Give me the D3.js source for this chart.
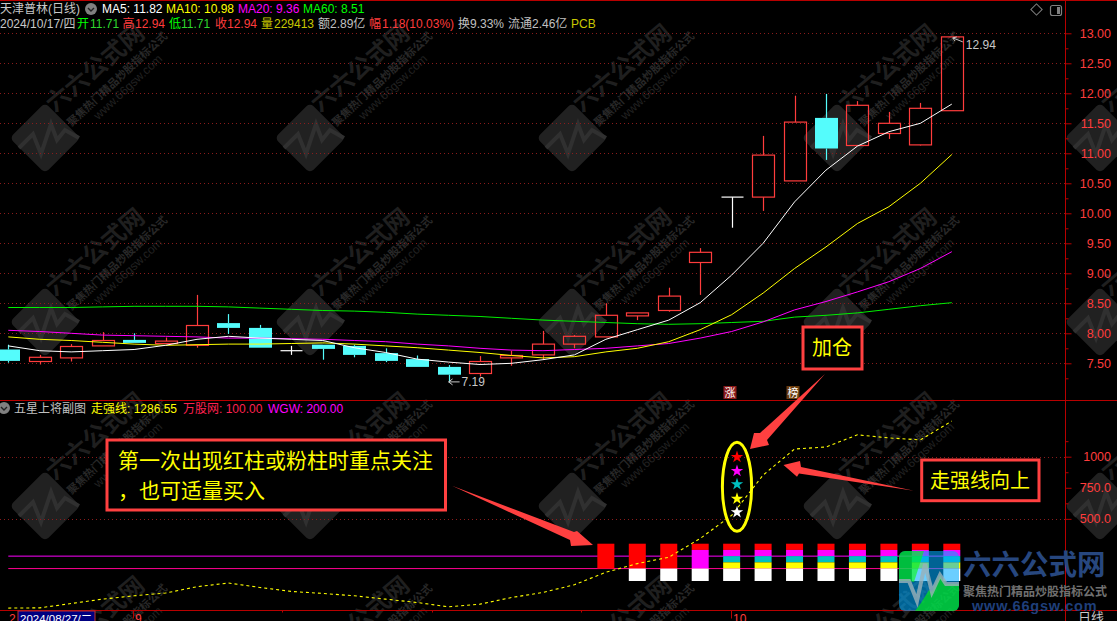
<!DOCTYPE html>
<html><head><meta charset="utf-8">
<script src="https://cdn.jsdelivr.net/npm/d3@7"></script>
<style>
html,body{margin:0;padding:0;background:#000;overflow:hidden}
svg{display:block}
text{font-family:"Liberation Sans","Noto Sans CJK SC",sans-serif}
</style></head><body>
<svg id="c" width="1117" height="621"></svg>
<script>
// ---- data ----
const opens  =[7.73,7.53,7.59,7.79,7.89,7.83,7.80,8.17,8.09,7.71,7.81,7.79,7.67,7.57,7.44,7.33,7.59,7.64,7.82,7.94,8.29,8.38,9.18,10.27,10.27,10.54,11.59,11.13,11.33,11.14,11.71];
const closes =[7.54,7.60,7.78,7.88,7.84,7.87,8.13,8.09,7.76,7.71,7.74,7.64,7.54,7.44,7.31,7.53,7.63,7.82,7.95,8.30,8.34,8.62,9.35,10.27,10.97,11.52,11.08,11.80,11.50,11.75,12.94];
const highs  =[7.81,7.64,7.82,8.02,8.00,7.93,8.64,8.32,8.14,7.79,7.81,7.81,7.75,7.63,7.47,7.62,7.71,8.04,7.97,8.50,8.34,8.76,9.42,10.27,11.29,11.96,11.99,11.87,11.69,11.84,12.94];
const lows   =[7.51,7.48,7.53,7.79,7.84,7.83,7.76,7.99,7.76,7.64,7.56,7.60,7.52,7.44,7.19,7.28,7.46,7.56,7.75,7.94,8.22,8.36,8.64,9.76,10.04,10.54,10.89,11.13,11.24,11.13,11.71];
const ma5    =[7.79,7.71,7.69,7.71,7.73,7.80,7.90,7.95,7.92,7.90,7.88,7.76,7.68,7.57,7.52,7.48,7.50,7.56,7.64,7.90,8.06,8.22,8.51,8.97,9.50,10.19,10.72,11.12,11.36,11.50,11.82];
const ma10   =[7.94,7.90,7.88,7.85,7.82,7.80,7.81,7.82,7.82,7.83,7.84,7.82,7.79,7.76,7.72,7.68,7.63,7.59,7.61,7.69,7.75,7.86,8.06,8.31,8.67,9.08,9.44,9.83,10.11,10.50,10.98];
const ma20   =[8.05,8.03,8.00,7.97,7.96,7.95,7.94,7.92,7.92,7.91,7.90,7.88,7.86,7.82,7.79,7.75,7.72,7.71,7.73,7.75,7.79,7.83,7.92,8.03,8.19,8.39,8.53,8.69,8.86,9.08,9.36];
const ma60   =[8.43,8.43,8.43,8.44,8.45,8.45,8.45,8.44,8.42,8.40,8.38,8.37,8.35,8.32,8.30,8.28,8.25,8.22,8.20,8.18,8.16,8.15,8.16,8.18,8.20,8.27,8.30,8.34,8.40,8.46,8.51];
const strongLine=[-218,-216,-181,-146,-119,-97,-46,-16,-52,-84,-100,-119,-146,-173,-208,-186,-133,-92,-30,70,140,191,342,528,852,1062,1078,1176,1151,1135,1286.55];
const lineWan=100, lineWgw=200;
const barIndex   =[19,20,21,22,23,24,25,26,27,28,29,30];
const redBase    =[100,100,100,250,250,250,250,250,250,250,250,250];
const magentaBase=[null,null,null,100,200,200,200,200,200,200,200,200];
const tealBase   =[null,null,null,null,150,150,150,150,150,150,150,150];
const yellowBase =[null,null,null,null,100,100,100,100,100,100,100,100];
const whiteBase  =[null,0,0,0,0,0,0,0,0,0,0,0];
const priceTicks=[7.5,8,8.5,9,9.5,10,10.5,11,11.5,12,12.5,13];
const priceMinor=[7.25,7.75,8.25,8.75,9.25,9.75,10.25,10.75,11.25,11.75,12.25,12.75];
const lowerTicks=[500,750,1000];
const lowerMinor=[625,875,1125];
const head1=[[102,"MA5: 11.82","#fff"],[166,"MA10: 10.98","#ff0"],[238,"MA20: 9.36","#f0f"],[303,"MA60: 8.51","#0f0"]];
const head2=[[0,"2024/10/17/四","#c8c8c8"],[77,"开","#0f0"],[90,"11.71","#2fd62f"],[122.5,"高","#ff3c3c"],[135,"12.94","#ff3c3c"],[169,"低","#0f0"],[181,"11.71","#2fd62f"],[215,"收","#ff3c3c"],[227,"12.94","#ff3c3c"],[261,"量","#c8c800"],[274,"229413","#c8c800"],[318,"额","#c0c0c0"],[330,"2.89亿","#c0c0c0"],[369,"幅","#ff3c3c"],[382,"1.18(10.03%)","#ff3c3c"],[458,"换","#c0c0c0"],[470,"9.33%","#c0c0c0"],[508,"流通","#c0c0c0"],[532,"2.46亿","#c0c0c0"],[571,"PCB","#c8c800"]];
const head3=[[14,"五星上将副图","#c0c0c0"],[91,"走强线: 1286.55","#ff0"],[183,"万股网: 100.00","#ff2050"],[268,"WGW: 200.00","#f0f"]];

// ---- scales ----
const svg=d3.select("#c");
const x=d3.scaleLinear().domain([0,30]).range([8.3,951.8]);
const y=d3.scaleLinear().domain([7.5,13]).range([363.3,33.3]);
const y2=d3.scaleLinear().domain([0,1000]).range([581,456.7]);
const RED="#ff3c3c", AX="#b80000";

// ---- watermarks ----
const wm=svg.append("g");
const wx=[45,310,572,837,1100], wy=[138,322,506,690];
wx.forEach(a=>wy.forEach(b=>{
  const g=wm.append("g").attr("transform",`translate(${a},${b})`);
  g.append("rect").attr("x",-25).attr("y",-25).attr("width",50).attr("height",50).attr("rx",5)
    .attr("transform","rotate(-45)").attr("fill","#212121");
  g.append("path").attr("d","M-26,10 L-12,-4 L-4,16 L6,-14 L12,2 L20,-8 L34,0").attr("fill","none").attr("stroke","#303030").attr("stroke-width",4);
  g.append("text").text("六六公式网").attr("transform","translate(50,-70) rotate(-40)").attr("text-anchor","middle").attr("dominant-baseline","central").attr("font-size",24).attr("font-weight",700).attr("fill","#1f1f1f");
  g.append("text").text("聚焦热门精品炒股指标公式").attr("transform","translate(72,-59) rotate(-43)").attr("text-anchor","middle").attr("dominant-baseline","central").attr("font-size",11).attr("font-weight",700).attr("fill","#282828");
  g.append("text").text("www.66gsw.com").attr("transform","translate(83,-51) rotate(-43)").attr("text-anchor","middle").attr("dominant-baseline","central").attr("font-size",12).attr("fill","#222");
}));

// ---- grid ----
const GRID="#8a1c1c";
svg.append("g").selectAll("line").data(priceTicks).join("line")
  .attr("x1",0).attr("x2",1065).attr("y1",d=>Math.round(y(d))+.5).attr("y2",d=>Math.round(y(d))+.5)
  .attr("stroke",GRID).attr("stroke-dasharray","1 3");
svg.append("g").selectAll("line").data([500,1000]).join("line")
  .attr("x1",0).attr("x2",1065).attr("y1",d=>Math.round(y2(d))+.5).attr("y2",d=>Math.round(y2(d))+.5)
  .attr("stroke",GRID).attr("stroke-dasharray","1 3");

// ---- candles ----
const idx=d3.range(opens.length);
const W=22, CYAN="#54fcfc";
const cg=svg.append("g");
idx.forEach(i=>{
  const o=opens[i],c=closes[i],hi=highs[i],lo=lows[i],cx=Math.round(x(i))+.5;
  const doji=o===c, up=c>o;
  const col=doji?"#fff":(up?RED:CYAN);
  const top=y(Math.max(o,c)), bot=y(Math.min(o,c));
  if(hi>Math.max(o,c)) cg.append("line").attr("x1",cx).attr("x2",cx).attr("y1",y(hi)).attr("y2",top).attr("stroke",col).attr("stroke-width",1.2);
  if(lo<Math.min(o,c)) cg.append("line").attr("x1",cx).attr("x2",cx).attr("y1",bot).attr("y2",y(lo)).attr("stroke",col).attr("stroke-width",1.2);
  if(doji) cg.append("line").attr("x1",cx-W/2).attr("x2",cx+W/2).attr("y1",top).attr("y2",top).attr("stroke",col).attr("stroke-width",1.2);
  else if(up) cg.append("rect").attr("x",cx-W/2).attr("y",top).attr("width",W).attr("height",bot-top).attr("fill","none").attr("stroke",col).attr("stroke-width",1.2);
  else cg.append("rect").attr("x",cx-W/2-.5).attr("y",top).attr("width",W+1).attr("height",bot-top).attr("fill",col);
});

// ---- moving averages ----
const line=d3.line().x((d,i)=>x(i)).y(d=>y(d));
[[ma60,"#00f000"],[ma20,"#f0f"],[ma10,"#ff0"],[ma5,"#fff"]].forEach(([s,c])=>{
  svg.append("path").attr("d",line(s)).attr("fill","none").attr("stroke",c).attr("stroke-width",1);
});

// ---- extreme labels ----
const GL="#c8c8c8";
const lowI=14, hiI=30;
svg.append("path").attr("d",`M${x(lowI)+11},${y(lows[lowI])}H${x(lowI)}m4,-3l-4,3l4,3`).attr("fill","none").attr("stroke",GL);
svg.append("text").text(lows[lowI].toFixed(2)).attr("x",x(lowI)+13).attr("y",y(lows[lowI])+4.5).attr("font-size",12).attr("fill",GL);
svg.append("path").attr("d",`M${x(hiI)+11},${y(highs[hiI])+5}L${x(hiI)+1},${y(highs[hiI])+1}m4,-1l-4,1l2,3`).attr("fill","none").attr("stroke",GL);
svg.append("text").text(highs[hiI].toFixed(2)).attr("x",x(hiI)+14).attr("y",y(highs[hiI])+12.5).attr("font-size",12).attr("fill",GL);

// ---- sub chart ----
svg.append("line").attr("x1",x(0)).attr("x2",960).attr("y1",y2(lineWgw)).attr("y2",y2(lineWgw)).attr("stroke","#f0f");
svg.append("line").attr("x1",x(0)).attr("x2",960).attr("y1",y2(lineWan)).attr("y2",y2(lineWan)).attr("stroke","#ff0090");
const BW=17;
const bars=svg.append("g");
barIndex.forEach((b,k)=>{
  const segs=[[redBase[k],300,"#f00"],[magentaBase[k],redBase[k],"#f0f"],[tealBase[k],magentaBase[k],"#00c0c0"],[yellowBase[k],tealBase[k],"#ff0"],[whiteBase[k],100,"#fff"]];
  segs.forEach(([lo,hi,c])=>{
    if(lo===null) return;
    bars.append("rect").attr("x",x(b)-BW/2).attr("width",BW).attr("y",y2(hi)).attr("height",y2(lo)-y2(hi)).attr("fill",c);
  });
});
svg.append("path").attr("d",d3.line().x((d,i)=>x(i)).y(d=>y2(d))(strongLine))
  .attr("fill","none").attr("stroke","#ff0").attr("stroke-width",1.1).attr("stroke-dasharray","3 3");

// ---- frame and axes ----
function fr(x1,y1,x2,y2_,c){svg.append("line").attr("x1",x1).attr("y1",y1).attr("x2",x2).attr("y2",y2_).attr("stroke",c||AX);}
fr(0,.5,1117,.5); fr(0,400.5,1117,400.5); fr(0,610.5,1117,610.5); fr(1065.5,0,1065.5,621);
function axis(sc,major,minor,fmt){
  svg.append("g").attr("transform","translate(1065.5,0)")
    .call(d3.axisRight(sc).tickValues(minor).tickSize(3).tickFormat(""))
    .call(g=>{g.select(".domain").remove();g.selectAll("line").attr("stroke",AX);});
  svg.append("g").attr("transform","translate(1065.5,0)")
    .call(d3.axisRight(sc).tickValues(major).tickSize(6).tickFormat(fmt))
    .call(g=>{g.select(".domain").remove();g.selectAll("line").attr("stroke",AX);
      g.selectAll("text").attr("x",45.5).attr("text-anchor","end").attr("font-size",12.5).attr("font-family",null).attr("fill",RED);});
}
axis(y,priceTicks,priceMinor,d3.format(".2f"));
axis(y2,lowerTicks,lowerMinor,d=>d>=1000?String(d):d.toFixed(1));

// ---- headers ----
function txt(t,xx,yy,c,fs,anchor,w){return svg.append("text").text(t).attr("x",xx).attr("y",yy).attr("fill",c).attr("font-size",fs||12).attr("text-anchor",anchor||"start").attr("dominant-baseline","central").attr("font-weight",w||400);}
txt("天津普林(日线)",0,9,"#c8c8c8");
function chev(cx,cy){svg.append("circle").attr("cx",cx).attr("cy",cy).attr("r",6).attr("fill","#808080");
  svg.append("path").attr("d",`M${cx-3},${cy-1}l3,3l3,-3`).attr("fill","none").attr("stroke","#222").attr("stroke-width",1.4);}
chev(91,9); chev(4,408);
head1.forEach(([a,t,c])=>txt(t,a,9,c));
head2.forEach(([a,t,c])=>txt(t,a,24,c));
head3.forEach(([a,t,c])=>txt(t,a,408.5,c));
svg.append("rect").attr("x",1032.5).attr("y",5.5).attr("width",8).attr("height",8).attr("transform","rotate(45 1036.5 9.5)").attr("fill","none").attr("stroke","#808080");
svg.append("rect").attr("x",1050.5).attr("y",5.5).attr("width",11).attr("height",10).attr("rx",2).attr("fill","none").attr("stroke","#808080").attr("stroke-width",1.2);
svg.append("rect").attr("x",1057).attr("y",7).attr("width",3).attr("height",7).attr("fill","#808080");

// ---- bottom axis ----
svg.append("rect").attr("x",18).attr("y",611).attr("width",77).attr("height",11).attr("fill","#000080").attr("stroke","#c03030");
txt("2024/08/27/二",20,618.5,"#fff",11.5);
txt("2",9,618.5,RED,12);
txt("9",135,618.5,RED,12);
txt("10",733,618.5,RED,12);
[[133,8],[731,8],[282,2],[432,2],[581,2]].forEach(([a,h])=>fr(a+.5,610.5,a+.5,610.5+h));
txt("日线",1078,617,"#c8c8c8",13);

// ---- event tags ----
[[730,"涨","#8b1a1a"],[793,"榜","#6b3d10"]].forEach(([a,t,c])=>{
  svg.append("rect").attr("x",a-6.5).attr("y",386).attr("width",13).attr("height",13).attr("fill",c);
  txt(t,a,392.5,"#fff",11,"middle");
});

// ---- callouts ----
const AR="#ff4040";
[[107,440,338.5,70],[803,327,59,42],[921.7,460,117.3,40.7]].forEach(([a,b,w,h])=>{
  svg.append("rect").attr("x",a).attr("y",b).attr("width",w).attr("height",h).attr("fill","#000").attr("stroke",AR).attr("stroke-width",3);
});
txt("第一次出现红柱或粉柱时重点关注",118,460.5,"#ff0",21);
txt("，也可适量买入",118,490,"#ff0",21);
txt("加仓",812,348,"#ff0",20);
txt("走强线向上",930,481,"#ff0",20);
[[[825,374],[767,440],[769,445],[750,449],[754,433],[760,433]],
 [[914,490.7],[799,473.5],[797,476.7],[783.5,465],[800,461],[801,467]],
 [[452,485.7],[574,532],[577,531],[593,545],[571,546],[570,540]]].forEach(p=>{
  svg.append("polygon").attr("points",p.join(" ")).attr("fill",AR);
});
svg.append("ellipse").attr("cx",737).attr("cy",486.7).attr("rx",14.6).attr("ry",44.5).attr("fill","none").attr("stroke","#ff0").attr("stroke-width",3);
[[457,"#f00"],[471,"#f0f"],[484.3,"#00c0c0"],[498.7,"#ff0"],[512.3,"#fff"]].forEach(([b,c])=>{
  svg.append("path").attr("d",d3.symbol(d3.symbolStar,48)()).attr("transform",`translate(737,${b})`).attr("fill",c);
});

// ---- corner logo ----
const lg=svg.append("g");
const cp=svg.append("defs").append("clipPath").attr("id","lc");
cp.append("rect").attr("x",899).attr("y",551).attr("width",60).attr("height",60).attr("rx",6);
const lc=lg.append("g").attr("clip-path","url(#lc)");
lc.append("rect").attr("x",899).attr("y",551).attr("width",60).attr("height",60).attr("fill","#00abff").attr("opacity",.58);
lc.append("polygon").attr("points","899,551 924,551 914,582 909,581 899,581").attr("fill","#00ff00").attr("opacity",.58);
lc.append("polygon").attr("points","932,592 940,575 946,584 959,584 959,611 915,611 921,603 929,590").attr("fill","#00ff00").attr("opacity",.58);
lc.append("path").attr("d","M899,581H909L917,601L925,564L932,592L940,575L946,584H959").attr("fill","none").attr("stroke","#9ab0b8").attr("stroke-width",4).attr("opacity",.8);
txt("六六公式网",963,565,"#27477f",28.5,"start",700);
txt("聚焦热门精品炒股指标公式",963,592,"#707070",12,"start",700);
txt("www.66gsw.com",972,606,"#1f3f7a",14.5,"start",700).attr("letter-spacing",.8);
</script></body></html>
